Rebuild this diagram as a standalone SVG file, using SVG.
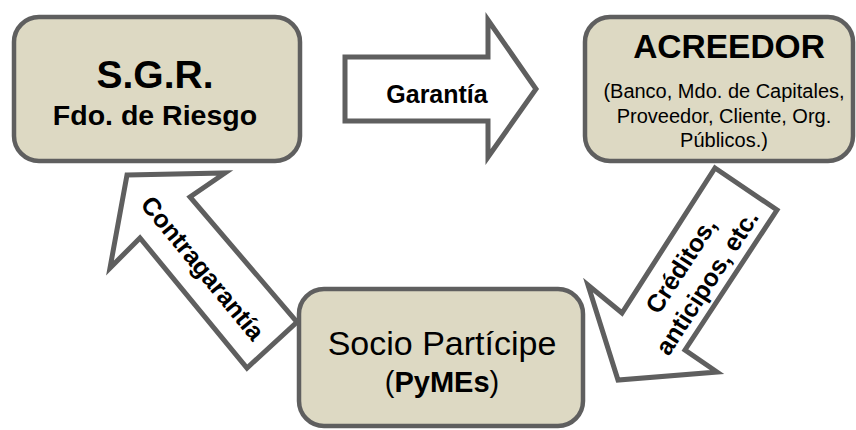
<svg xmlns="http://www.w3.org/2000/svg" width="856" height="430" viewBox="0 0 856 430">
<style>
.box{fill:#ddd9c3;stroke:#5f5f5f;stroke-width:4.5}
.arr{fill:#ffffff;stroke:#5f5f5f;stroke-width:5;stroke-linejoin:miter}
text{font-family:"Liberation Sans",Arial,sans-serif;fill:#000;text-anchor:middle}
.b{font-weight:bold}
</style>
<rect width="856" height="430" fill="#ffffff"/>
<g id="connectors">
  <g id="garantia">
    <polygon class="arr" points="345,57 488,57 488,20 536,89 488,157 488,121 345,121"/>
    <text class="b" x="437" y="103" font-size="25">Garantía</text>
  </g>
  <g id="contragarantia">
    <polygon class="arr" points="127,175 225,173 190,197 297,322 247,368 140,238 110,268"/>
    <text class="b" font-size="25" transform="translate(203,268) rotate(50.5)" y="9">Contragarantía</text>
  </g>
  <g id="creditos">
    <polygon class="arr" points="715,168 777,210 685,350 717,372 618,380 588,285 622,313"/>
    <g transform="translate(694,274) rotate(-57)">
      <text class="b" font-size="25" y="-7">Créditos,</text>
      <text class="b" font-size="25" y="24">anticipos, etc.</text>
    </g>
  </g>
</g>
<g id="sgr">
  <rect class="box" x="14" y="17" width="286" height="144" rx="25"/>
  <text class="b" x="155" y="88" font-size="39">S.G.R.</text>
  <text class="b" x="155" y="125" font-size="28.5">Fdo. de Riesgo</text>
</g>
<g id="acreedor">
  <rect class="box" x="585" y="17" width="268" height="144" rx="25"/>
  <text class="b" x="729" y="58" font-size="33.5">ACREEDOR</text>
  <text x="724" y="98" font-size="20">(Banco, Mdo. de Capitales,</text>
  <text x="724" y="123" font-size="20">Proveedor, Cliente, Org.</text>
  <text x="724" y="147" font-size="20">Públicos.)</text>
</g>
<g id="socio">
  <rect class="box" x="299" y="289" width="284" height="137" rx="25"/>
  <text x="442" y="355" font-size="34">Socio Partícipe</text>
  <text x="442" y="392" font-size="29">(<tspan class="b">PyMEs</tspan>)</text>
</g>
</svg>
